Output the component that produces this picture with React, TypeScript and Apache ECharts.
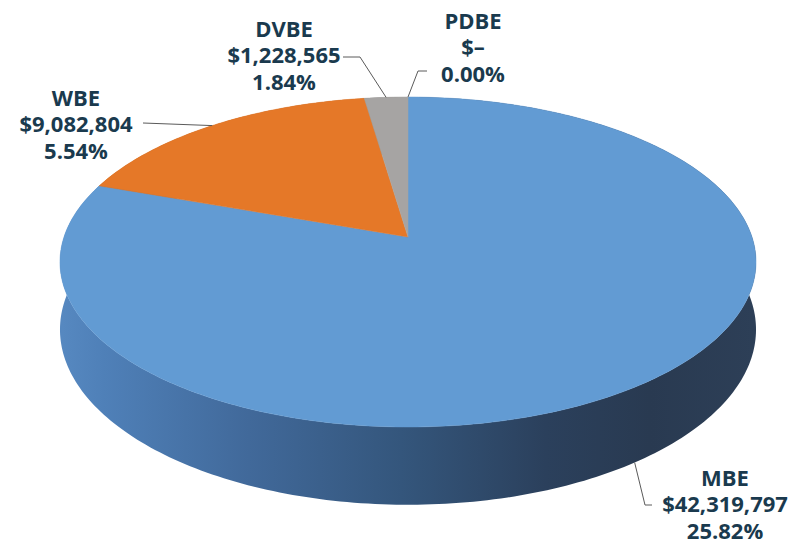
import React, { useEffect, useRef } from "react";
import * as echarts from "echarts";

const names = ["MBE", "WBE", "DVBE", "PDBE"];
const values = [42319797, 9082804, 1228565, 0];
const percents = ["25.82%", "5.54%", "1.84%", "0.00%"];
const topColors = ["#629bd3", "#e57828", "#a6a4a3", "#7a9a3a"];

// label layout: text block centre and leader elbow points (screen px)
const labelLayout = [
  { x: 725, y: 503, line: [[652, 505], [645, 505]], side: "bottom" },
  { x: 76, y: 123, line: [[143, 123]], side: "top" },
  { x: 284, y: 54, line: [[343, 57], [360, 57]], side: "top" },
  { x: 473, y: 46, line: [[427, 71], [418, 71]], side: "top" },
];

// projection parameters
const CX = 408;
const CY = 237;
const A = 344;
const B = 161.2;
const K = 0.1515;
const H = 66;

function proj(theta: number, down: boolean): [number, number] {
  const u = Math.sin(theta);
  const v = Math.cos(theta);
  const d = 1 + K * v;
  const x = CX + (A * u) / d;
  let y = CY - (B * v) / d;
  if (down) y += H / d;
  return [x, y];
}

function fmtAmount(v: number) {
  if (!v) return "$–";
  return "$" + v.toLocaleString("en-US");
}

export default function App() {
  const ref = useRef<HTMLDivElement>(null);
  useEffect(() => {
    document.body.style.margin = "0";
    const chart = echarts.init(ref.current!, null, { renderer: "svg" });
    const total = values.reduce((a, b) => a + b, 0);
    const renderItem = (params: any, api: any) => {
      const i = params.dataIndex;
      const val = api.value(1);
      let before = 0;
      for (let j = 0; j < i; j++) before += values[j];
      const t0 = (before / total) * Math.PI * 2;
      const t1 = ((before + val) / total) * Math.PI * 2;
      const children: any[] = [];
      if (val > 0) {
        const n = Math.max(2, Math.ceil(((t1 - t0) * 180) / Math.PI));
        const topArc: number[][] = [];
        const botArc: number[][] = [];
        for (let s = 0; s <= n; s++) {
          const t = t0 + ((t1 - t0) * s) / n;
          topArc.push(proj(t, false));
          botArc.push(proj(t, true));
        }
        const wall = topArc.concat(botArc.slice().reverse());
        children.push({
          type: "polygon",
          z2: 1,
          shape: { points: wall },
          style: {
            fill:
              i === 0
                ? new echarts.graphic.LinearGradient(
                    62,
                    0,
                    754,
                    0,
                    [
                      { offset: 0, color: "#5688c0" },
                      { offset: 0.06, color: "#4f80b8" },
                      { offset: 0.27, color: "#41699a" },
                      { offset: 0.49, color: "#34567c" },
                      { offset: 0.7, color: "#2b405c" },
                      { offset: 0.85, color: "#293a51" },
                      { offset: 1, color: "#2d3f57" },
                    ],
                    true
                  )
                : i === 1
                ? "#b05a1a"
                : "#7d7b7a",
          },
        });
        children.push({
          type: "polygon",
          z2: 10,
          shape: { points: [[CX, CY]].concat(topArc) },
          style: { fill: topColors[i], stroke: topColors[i], lineWidth: 0.5 },
        });
      }
      const lay = labelLayout[i];
      const mid = (t0 + t1) / 2;
      const anchor = proj(mid, lay.side === "bottom");
      children.push({
        type: "polyline",
        z2: 20,
        shape: { points: lay.line.concat([anchor]) },
        style: { stroke: "#5a5a5a", lineWidth: 1, fill: "none" },
      });
      children.push({
        type: "text",
        z2: 30,
        x: lay.x,
        y: lay.y,
        style: {
          text: names[i] + "\n" + fmtAmount(val) + "\n" + percents[i],
          align: "center",
          verticalAlign: "middle",
          fontFamily: "Open Sans",
          fontWeight: "bold",
          fontSize: 22,
          lineHeight: 26.5,
          fill: "#1a3a4e",
        },
      });
      return { type: "group", children };
    };
    chart.setOption({
      animation: false,
      backgroundColor: "#ffffff",
      series: [
        {
          type: "custom",
          coordinateSystem: "none",
          renderItem,
          data: names.map((n, i) => ({ name: n, value: [i, values[i]] })),
        },
      ],
    });
    return () => chart.dispose();
  }, []);
  return (
    <div
      ref={ref}
      style={{ position: "fixed", left: 0, top: 0, width: 799, height: 543 }}
    />
  );
}
